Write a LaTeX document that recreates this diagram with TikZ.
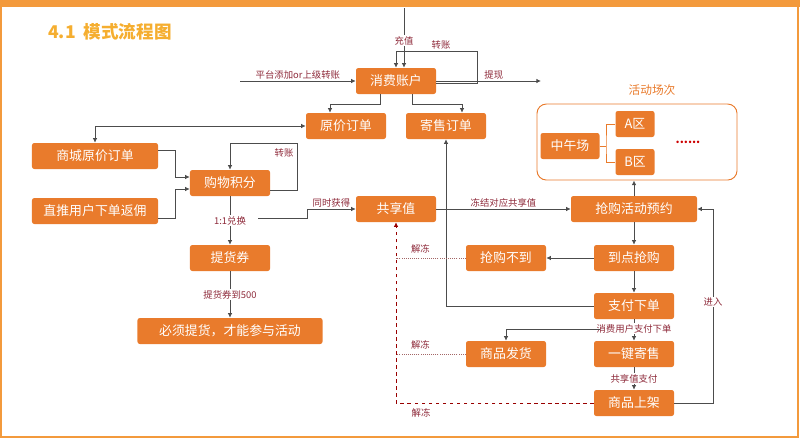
\documentclass[tikz,border=0pt]{standalone}
\usepackage{fontspec}
\setmainfont{Noto Sans CJK SC}
\usetikzlibrary{positioning, arrows.meta}
\definecolor{boxor}{HTML}{E97B2C}
\definecolor{lblred}{HTML}{8E2A3A}
\definecolor{frameor}{HTML}{F39A3C}

\begin{document}
\begin{tikzpicture}[x=0.03cm, y=-0.03cm,
    box/.style={fill=boxor, rounded corners=2pt, text=white, font=\fontsize{11}{12}\selectfont,
        minimum height=0.78cm, inner sep=0pt},
    lbl/.style={text=lblred, font=\fontsize{8}{9}\selectfont, inner sep=1pt},
    flow/.style={draw=black!70, thick, -{Latex[length=4pt,width=4pt]}},
    thaw/.style={draw=red!60!black, thick, dashed},
    thawlite/.style={draw=red!40!black!60, densely dotted, thick}]
    \useasboundingbox (0,0) rectangle (800,438);

    % frame and title
    \fill[frameor] (0,0) rectangle (800,7);
    \draw[frameor, line width=1.5pt] (1,7) -- (1,437) -- (798,437) -- (798,7);
    \node[text=frameor!80!yellow, font=\fontsize{15}{17}\selectfont\bfseries, anchor=west] (title) at (44,32) {4.1\ \ 模式流程图};

    % nodes
    \node[box, minimum width=2.4cm] (xf) at (396,81) {消费账户};
    \node[box, minimum width=2.4cm] (yj) at (346,126) {原价订单};
    \node[box, minimum width=2.4cm] (js) at (446,126) {寄售订单};
    \node[box, minimum width=3.78cm] (sc) at (95,156) {商城原价订单};
    \node[box, minimum width=3.78cm] (zt) at (95,211) {直推用户下单返佣};
    \node[box, minimum width=2.4cm] (gw) at (230,183) {购物积分};
    \node[box, minimum width=2.4cm] (th) at (230,258) {提货券};
    \node[box, minimum width=5.55cm] (bx) at (230,331) {必须提货，才能参与活动};
    \node[box, minimum width=2.4cm] (gx) at (396,209) {共享值};
    \node[box, minimum width=3.78cm] (yy) at (634,209) {抢购活动预约};
    \node[box, minimum width=2.4cm] (dd) at (634,258) {到点抢购};
    \node[box, minimum width=2.4cm] (bd) at (506,258) {抢购不到};
    \node[box, minimum width=2.4cm] (zf) at (634,306) {支付下单};
    \node[box, minimum width=2.4cm] (fh) at (506,354) {商品发货};
    \node[box, minimum width=2.4cm] (jy) at (634,354) {一键寄售};
    \node[box, minimum width=2.4cm] (sj) at (634,403) {商品上架};

    % activity sessions
    \node[draw=boxor, thick, rounded corners=8pt, minimum width=6cm, minimum height=2.28cm] (hd) at (637,142) {};
    \node[text=boxor, font=\fontsize{10}{12}\selectfont] (hdt) at (652,90) {活动场次};
    \node[box, minimum width=1.77cm] (zw) at (570,146) {中午场};
    \node[box, minimum width=1.17cm] (qa) at (635,124) {A区};
    \node[box, minimum width=1.17cm] (qb) at (635,162) {B区};
    \node[text=red!80!black, font=\bfseries] (dots) at (688,142) {......};
    \draw[boxor] (zw.east) -- (606,146) (qa.west) -| (606,146) |- (qb.west);

    % top account
    \coordinate (in) at (404,8);
    \coordinate (pt) at (240,81);
    \coordinate (tx) at (541,81);
    \draw[flow] (in) -- (xf.north -| in) node[lbl, pos=0.55, fill=white] {充值};
    \draw[flow] ([yshift=-2.5pt]xf.east) -- ++(41,0) |- (396,51) -- (xf.north -| 396,0);
    \node[lbl] (zz1) at (441,45) {转账};
    \draw[flow] (pt) -- (xf.west) node[lbl, midway, above] {平台添加or上级转账};
    \draw[flow] (xf.east) -- (tx) node[lbl, pos=0.55, above] {提现};
    \draw[flow] (xf.south -| 380,0) |- (330,104) -- (yj.north -| 330,0);
    \draw[flow] (xf.south -| 412,0) |- (462,104) -- (js.north -| 462,0);
    \draw[flow, {Latex[length=4pt,width=4pt]}-{Latex[length=4pt,width=4pt]}] (sc.north) |- (yj.west);

    % shopping points
    \draw[flow] (sc.east |- 0,150) -| (175,177) -- (gw.west |- 0,177);
    \draw[flow] (zt.east |- 0,218) -| (175,189) -- (gw.west |- 0,189);
    \draw[flow] (gw.east |- 0,190) -| (297,143) -| (gw.north);
    \node[lbl] (zz2) at (284,153) {转账};
    \draw[flow] (gw) -- (th) node[lbl, midway, fill=white] {1:1兑换};
    \draw[flow] (258,218) -- (307,218) |- (gx.west) node[lbl, pos=0.75, above] {同时获得};
    \draw[flow] (th) -- (bx) node[lbl, midway, fill=white] {提货券到500};

    % activity flow
    \draw[flow] (gx) -- (yy) node[lbl, midway, above] {冻结对应共享值};
    \draw[flow] (yy.north) -- (hd.south -| yy.north);
    \draw[flow] (yy) -- (dd);
    \draw[flow] (dd) -- (bd);
    \draw[flow] (dd) -- (zf);
    \draw[flow] (zf.west) -| (js.south);
    \draw[flow] (zf) -- (jy) node[lbl, pos=0.45, fill=white] {消费用户支付下单};
    \draw[flow] (600,329) -| (fh.north);
    \draw[flow] (jy) -- (sj) node[lbl, midway, fill=white] {共享值支付};
    \draw[flow] (sj.east) -| (713,209) -- (yy.east);
    \node[lbl, fill=white] (jr) at (713,302) {进入};

    % thaw
    \draw[thawlite] (bd.west) -- (396,258) node[lbl, pos=0.65, above=3pt] {解冻};
    \draw[thawlite] (fh.west) -- (396,354) node[lbl, pos=0.65, above=3pt] {解冻};
    \draw[thaw, -{Latex[length=4pt,width=4pt]}] (sj.west) -| (gx.south);
    \node[lbl] (jd3) at (421,413) {解冻};
\end{tikzpicture}
\end{document}
